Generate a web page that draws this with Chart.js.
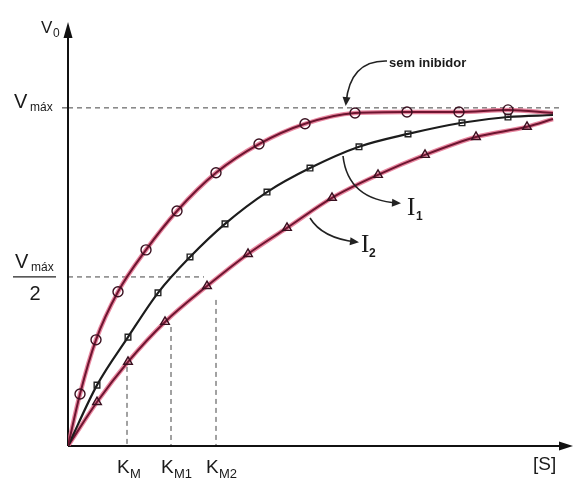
<!DOCTYPE html>
<html>
<head>
<meta charset="utf-8">
<script src="https://cdn.jsdelivr.net/npm/chart.js@4.4.0/dist/chart.umd.min.js"></script>
<style>
  html, body { margin: 0; padding: 0; background: #fff; }
  #wrap { position: relative; width: 573px; height: 481px; }
</style>
</head>
<body>
<div id="wrap"><canvas id="mmChart"></canvas></div>
<script>
// [S] in arbitrary units, v0 as a fraction of Vmax
const semInibidorS = [1.2, 2.8, 5.0, 7.8, 10.9, 14.8, 19.1, 23.7, 28.7, 33.9, 39.1, 44.0];
const semInibidorV = [0.154, 0.314, 0.456, 0.580, 0.695, 0.808, 0.893, 0.953, 0.985, 0.988, 0.988, 0.994];

const i1S = [2.9, 6.0, 9.0, 12.2, 15.7, 19.9, 24.2, 29.1, 34.0, 39.4, 44.0];
const i1V = [0.180, 0.322, 0.453, 0.559, 0.657, 0.751, 0.822, 0.885, 0.923, 0.956, 0.973];

const i2S = [2.9, 6.0, 9.7, 13.9, 18.0, 21.9, 26.4, 31.0, 35.7, 40.8, 45.9];
const i2V = [0.130, 0.249, 0.367, 0.473, 0.568, 0.645, 0.734, 0.802, 0.861, 0.914, 0.944];

// where each curve ends on the right (no marker there)
const curveEndS = 48.5;
const curveEndV = [0.985, 0.979, 0.967];

const vMax = 1;
const kmValues = [5.9, 10.3, 14.8];
const kmLabels = [['K', 'M'], ['K', 'M1'], ['K', 'M2']];
const kmLineTop = [0.234, 0.352, 0.432];

const maroon = '#6e1530';
const pink = 'rgba(226, 96, 130, 0.75)';

function curvePoints(xs, ys, endV) {
  const pts = [{ x: 0, y: 0 }];
  xs.forEach((x, i) => pts.push({ x: x, y: ys[i] }));
  pts.push({ x: curveEndS, y: endV });
  return pts;
}
function radii(n, r) {
  const arr = [0];
  for (let i = 0; i < n; i++) arr.push(r);
  arr.push(0);
  return arr;
}

const semPts = curvePoints(semInibidorS, semInibidorV, curveEndV[0]);
const i1Pts = curvePoints(i1S, i1V, curveEndV[1]);
const i2Pts = curvePoints(i2S, i2V, curveEndV[2]);

function halo(pts) {
  return {
    data: pts, borderColor: pink, borderWidth: 4.5, pointRadius: 0,
    cubicInterpolationMode: 'monotone', order: 5
  };
}

// axes, dashed guides, labels and arrows
const decorations = {
  id: 'decorations',
  beforeDatasetsDraw(chart) {
    const ctx = chart.ctx;
    const xs = chart.scales.x, ys = chart.scales.y;
    const x0 = xs.getPixelForValue(0), y0 = ys.getPixelForValue(0);
    const yV = ys.getPixelForValue(vMax), yH = ys.getPixelForValue(vMax / 2);
    ctx.save();
    ctx.strokeStyle = '#444';
    ctx.lineWidth = 1;
    ctx.setLineDash([5, 4]);
    ctx.beginPath();
    ctx.moveTo(x0, yV); ctx.lineTo(xs.getPixelForValue(49.4), yV);
    ctx.moveTo(x0, yH); ctx.lineTo(xs.getPixelForValue(13.6), yH);
    kmValues.forEach((k, i) => {
      const px = xs.getPixelForValue(k);
      ctx.moveTo(px, ys.getPixelForValue(kmLineTop[i]));
      ctx.lineTo(px, y0);
    });
    ctx.stroke();
    ctx.setLineDash([]);
    // tick at Vmax
    ctx.strokeStyle = '#333';
    ctx.beginPath(); ctx.moveTo(x0 - 6, yV); ctx.lineTo(x0, yV); ctx.stroke();

    // axes
    ctx.strokeStyle = '#111';
    ctx.fillStyle = '#111';
    ctx.lineWidth = 2;
    ctx.beginPath();
    ctx.moveTo(x0, y0); ctx.lineTo(x0, chart.chartArea.top + 10);
    ctx.moveTo(x0, y0); ctx.lineTo(chart.chartArea.right - 10, y0);
    ctx.stroke();
    const top = chart.chartArea.top, right = chart.chartArea.right;
    ctx.beginPath();
    ctx.moveTo(x0, top); ctx.lineTo(x0 - 4.5, top + 16); ctx.lineTo(x0 + 4.5, top + 16);
    ctx.closePath(); ctx.fill();
    ctx.beginPath();
    ctx.moveTo(right, y0); ctx.lineTo(right - 14, y0 - 4.5); ctx.lineTo(right - 14, y0 + 4.5);
    ctx.closePath(); ctx.fill();
    ctx.restore();
  },
  afterDraw(chart) {
    const ctx = chart.ctx;
    const xs = chart.scales.x, ys = chart.scales.y;
    const x0 = xs.getPixelForValue(0), y0 = ys.getPixelForValue(0);
    const yV = ys.getPixelForValue(vMax), yH = ys.getPixelForValue(vMax / 2);
    const sans = '"Liberation Sans", Arial, sans-serif';
    const serif = '"Liberation Serif", "Times New Roman", serif';
    ctx.save();
    ctx.fillStyle = '#1a1a1a';
    ctx.textBaseline = 'alphabetic';
    ctx.textAlign = 'left';

    // V0
    ctx.font = '17px ' + sans;
    ctx.fillText('V', 41, 33);
    ctx.font = '12px ' + sans;
    ctx.fillText('0', 53, 37);

    // Vmáx
    ctx.font = '20px ' + sans;
    ctx.fillText('V', 14, yV);
    ctx.font = '12px ' + sans;
    ctx.fillText('máx', 30, yV + 3);

    // Vmáx / 2
    ctx.font = '20px ' + sans;
    ctx.fillText('V', 15, yH - 9);
    ctx.font = '12px ' + sans;
    ctx.fillText('máx', 31, yH - 6);
    ctx.strokeStyle = '#222';
    ctx.lineWidth = 1.2;
    ctx.beginPath(); ctx.moveTo(13, yH); ctx.lineTo(56, yH); ctx.stroke();
    ctx.font = '20px ' + sans;
    ctx.textAlign = 'center';
    ctx.fillText('2', 35, yH + 23);

    // K_M labels
    kmValues.forEach((k, i) => {
      const px = xs.getPixelForValue(k);
      ctx.textAlign = 'left';
      ctx.font = '19px ' + sans;
      ctx.fillText(kmLabels[i][0], px - 10, y0 + 27);
      ctx.font = '13px ' + sans;
      ctx.fillText(kmLabels[i][1], px + 3, y0 + 32);
    });

    // [S]
    ctx.font = '19px ' + sans;
    ctx.textAlign = 'left';
    ctx.fillText('[S]', 533, y0 + 24);

    // sem inibidor
    ctx.font = 'bold 13px ' + sans;
    ctx.fillText('sem inibidor', 389, 67);

    // I1, I2
    ctx.font = '25px ' + serif;
    ctx.fillText('I', 407, 215);
    ctx.fillText('I', 361, 252);
    ctx.font = 'bold 12px ' + sans;
    ctx.fillText('1', 416, 220);
    ctx.fillText('2', 369, 257);

    // curved pointer arrows
    function pointer(sx, sy, cx, cy, ex, ey) {
      ctx.strokeStyle = '#222';
      ctx.fillStyle = '#222';
      ctx.lineWidth = 1.6;
      ctx.beginPath();
      ctx.moveTo(sx, sy);
      ctx.quadraticCurveTo(cx, cy, ex, ey);
      ctx.stroke();
      const a = Math.atan2(ey - cy, ex - cx);
      ctx.beginPath();
      ctx.moveTo(ex + 3 * Math.cos(a), ey + 3 * Math.sin(a));
      ctx.lineTo(ex - 6 * Math.cos(a) + 4 * Math.sin(a), ey - 6 * Math.sin(a) - 4 * Math.cos(a));
      ctx.lineTo(ex - 6 * Math.cos(a) - 4 * Math.sin(a), ey - 6 * Math.sin(a) + 4 * Math.cos(a));
      ctx.closePath();
      ctx.fill();
    }
    pointer(387, 61, 350, 60, 346, 103);
    pointer(343, 156, 348, 200, 398, 203);
    pointer(310, 218, 322, 238, 356, 242);
    ctx.restore();
  }
};

new Chart(document.getElementById('mmChart'), {
  type: 'line',
  data: {
    datasets: [
      halo(semPts),
      halo(i2Pts),
      {
        label: 'sem inibidor',
        data: semPts,
        borderColor: maroon, borderWidth: 2,
        pointStyle: 'circle', pointRadius: radii(semInibidorS.length, 5),
        pointBackgroundColor: 'rgba(255,255,255,0)', pointBorderColor: '#3a1020', pointBorderWidth: 1.4,
        cubicInterpolationMode: 'monotone', order: 1
      },
      {
        label: 'I1',
        data: i1Pts,
        borderColor: '#1c1c1c', borderWidth: 2.2,
        pointStyle: 'rect', pointRadius: radii(i1S.length, 4),
        pointBackgroundColor: 'rgba(255,255,255,0)', pointBorderColor: '#222', pointBorderWidth: 1.4,
        cubicInterpolationMode: 'monotone', order: 1
      },
      {
        label: 'I2',
        data: i2Pts,
        borderColor: maroon, borderWidth: 2,
        pointStyle: 'triangle', pointRadius: radii(i2S.length, 5),
        pointBackgroundColor: 'rgba(255,255,255,0)', pointBorderColor: '#3a1020', pointBorderWidth: 1.4,
        cubicInterpolationMode: 'monotone', order: 1
      }
    ]
  },
  options: {
    responsive: true,
    maintainAspectRatio: false,
    animation: false,
    layout: { padding: { left: 68, top: 22, right: 0, bottom: 35 } },
    scales: {
      x: { type: 'linear', min: 0, max: 50.5, display: false },
      y: { type: 'linear', min: 0, max: 1.254, display: false }
    },
    plugins: {
      legend: { display: false },
      tooltip: { enabled: false }
    }
  },
  plugins: [decorations]
});
</script>
</body>
</html>
